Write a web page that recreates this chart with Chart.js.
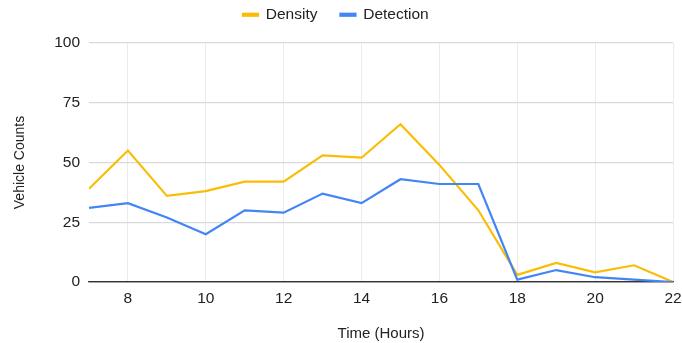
<!DOCTYPE html>
<html>
<head>
<meta charset="utf-8">
<script src="https://cdn.jsdelivr.net/npm/chart.js@4"></script>
<style>
  html, body { margin: 0; padding: 0; background: #fff; }
  #wrap { width: 682px; height: 343px; position: relative; }
</style>
</head>
<body>
<div id="wrap"><canvas id="c" width="682" height="343"></canvas></div>
<script>
const hours = [7, 8, 9, 10, 11, 12, 13, 14, 15, 16, 17, 18, 19, 20, 21, 22];
const density = [39, 55, 36, 38, 42, 42, 53, 52, 66, 49, 30, 3, 8, 4, 7, 0];
const detection = [31, 33, 27, 20, 30, 29, 37, 33, 43, 41, 41, 1, 5, 2, 1, 0];
const xTickValues = [8, 10, 12, 14, 16, 18, 20, 22];
const yTickValues = [0, 25, 50, 75, 100];
const seriesNames = ['Density', 'Detection'];
const xTitle = 'Time (Hours)';
const yTitle = 'Vehicle Counts';

const FONT = '"Liberation Sans", Arial, sans-serif';
const YELLOW = '#FBBC04';
const BLUE = '#4285F4';

const legendPatch = {
  id: 'legendPatch',
  beforeUpdate(chart) {
    const lg = chart.legend;
    if (lg && !lg._patched) {
      const f = lg.fit;
      lg.fit = function () { f.call(this); this.height = 43; };
      lg._patched = true;
    }
  },
  afterLayout(chart) {
    const lg = chart.legend;
    if (lg) {
      lg.left = 220;
      lg.top = -16;
    }
  }
};

new Chart(document.getElementById('c'), {
  type: 'line',
  data: {
    datasets: [
      {
        label: seriesNames[0],
        data: hours.map((h, i) => ({ x: h, y: density[i] })),
        borderColor: YELLOW,
        backgroundColor: YELLOW,
        borderWidth: 2.2,
        pointRadius: 0,
        tension: 0,
        order: 1
      },
      {
        label: seriesNames[1],
        data: hours.map((h, i) => ({ x: h, y: detection[i] })),
        borderColor: BLUE,
        backgroundColor: BLUE,
        borderWidth: 2.2,
        pointRadius: 0,
        tension: 0,
        order: 0
      }
    ]
  },
  plugins: [legendPatch],
  options: {
    responsive: false,
    animation: false,
    layout: { padding: 0 },
    plugins: {
      tooltip: { enabled: false },
      legend: {
        display: true,
        position: 'top',
        align: 'start',
        labels: {
          boxWidth: 15,
          boxHeight: 2,
          padding: 23,
          color: '#222',
          font: { family: FONT, size: 15.5 },
          sort: (a, b) => a.datasetIndex - b.datasetIndex
        }
      }
    },
    scales: {
      x: {
        type: 'linear',
        min: 7,
        max: 22,
        afterBuildTicks(scale) { scale.ticks = xTickValues.map(v => ({ value: v })); },
        afterFit(scale) { scale.height = 61; scale.paddingRight = 9; scale.paddingLeft = 0; },
        ticks: {
          color: '#222',
          padding: 7,
          maxRotation: 0,
          font: { family: FONT, size: 15.5 }
        },
        grid: { color: '#ebebeb', lineWidth: 1, drawTicks: false },
        border: { display: true, color: '#333', width: 1.2 },
        title: {
          display: true,
          text: xTitle,
          color: '#222',
          font: { family: FONT, size: 15 },
          padding: { top: 0, bottom: 0 }
        }
      },
      y: {
        min: 0,
        max: 100,
        afterBuildTicks(scale) { scale.ticks = yTickValues.map(v => ({ value: v })); },
        afterFit(scale) { scale.width = 89; },
        ticks: {
          color: '#222',
          padding: 9,
          font: { family: FONT, size: 15.5 }
        },
        grid: {
          color: ctx => (ctx.tick && ctx.tick.value === 0) ? '#333' : '#dadada',
          lineWidth: 1.2,
          drawTicks: false
        },
        border: { display: false },
        title: {
          display: true,
          text: yTitle,
          color: '#222',
          font: { family: FONT, size: 14 },
          padding: { top: 12, bottom: 0 }
        }
      }
    }
  }
});
</script>
</body>
</html>
